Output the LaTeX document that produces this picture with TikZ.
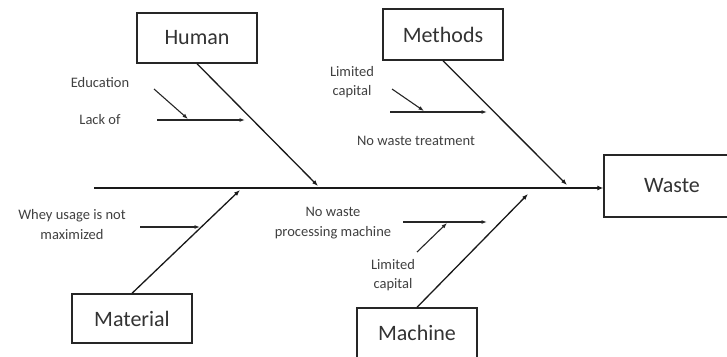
\documentclass[tikz,border=0pt]{standalone}
\usepackage{fontspec}
\setmainfont{Carlito}
\usetikzlibrary{arrows.meta}
\begin{document}
\begin{tikzpicture}[x=1pt,y=-1pt,
  catbox/.style={draw=black!85,line width=1.4pt,minimum width=120pt,minimum height=50pt,inner sep=0pt,font=\fontsize{22}{26}\selectfont,text=black!80},
  lbl/.style={inner sep=0pt,align=center,font=\fontsize{14.5}{19.5}\selectfont,text=black!75},
  branch/.style={line width=1.3pt,draw=black!90,-{Latex[length=6pt,width=4.5pt]}},
  sub/.style={line width=1.1pt,draw=black!85,-{Latex[length=5.5pt,width=4pt]}}]
\useasboundingbox (0,0) rectangle (727,356);
\fill[white] (0,0) rectangle (727,356);
% boxes
\node[catbox] (human) at (197,38) {Human};
\node[catbox,minimum height=51pt] (methods) at (443,34.5) {Methods};
\node[catbox,minimum height=49pt] (material) at (132,318.5) {Material};
\node[catbox] (machine) at (417,333) {Machine};
\node[catbox,minimum width=136pt,minimum height=62pt] (waste) at (672,186) {Waste};
% spine
\coordinate (s0) at (94,188);
\draw[line width=2pt,draw=black!90,-{Latex[length=6pt,width=5pt]}] (s0) -- (s0 -| waste.west);
% branch end points
\coordinate (hEnd) at (318,186);
\coordinate (mEnd) at (567,185);
\coordinate (matEnd) at (240,190);
\coordinate (macEnd) at (528,194);
\draw[branch] (human.south) -- (hEnd);
\draw[branch] (methods.south) -- (mEnd);
\draw[branch] (material.north) -- (matEnd);
\draw[branch] (machine.north) -- (macEnd);
% Human causes
\node[lbl] (edu) at (100,83) {Education};
\node[lbl] (lack) at (100,120) {Lack of};
\coordinate (lackS) at (157,120);
\coordinate (lackE) at (245,120);
\coordinate (eduS) at (154,89);
\coordinate (eduE) at (188,119);
\draw[sub] (lackS) -- (lackE);
\draw[sub] (eduS) -- (eduE);
% Methods causes
\node[lbl] (limc1) at (352,82) {Limited\\capital};
\node[lbl] (nwt) at (416,141) {No waste treatment};
\coordinate (nwtS) at (390,112);
\coordinate (nwtE) at (487,112);
\coordinate (limS1) at (392,89);
\coordinate (limE1) at (424,111);
\draw[sub] (nwtS) -- (nwtE);
\draw[sub] (limS1) -- (limE1);
% Material cause
\node[lbl] (whey) at (72,224.5) {Whey usage is not\\maximized};
\coordinate (wheyS) at (140,227);
\coordinate (wheyE) at (200,227);
\draw[sub] (wheyS) -- (wheyE);
% Machine causes
\node[lbl] (nwpm) at (333,223) {No waste\\processing machine};
\node[lbl] (limc2) at (393,275) {Limited\\capital};
\coordinate (nwpS) at (403,222);
\coordinate (nwpE) at (487,222);
\coordinate (limS2) at (417,252);
\coordinate (limE2) at (447,223);
\draw[sub] (nwpS) -- (nwpE);
\draw[sub] (limS2) -- (limE2);
\end{tikzpicture}
\end{document}
